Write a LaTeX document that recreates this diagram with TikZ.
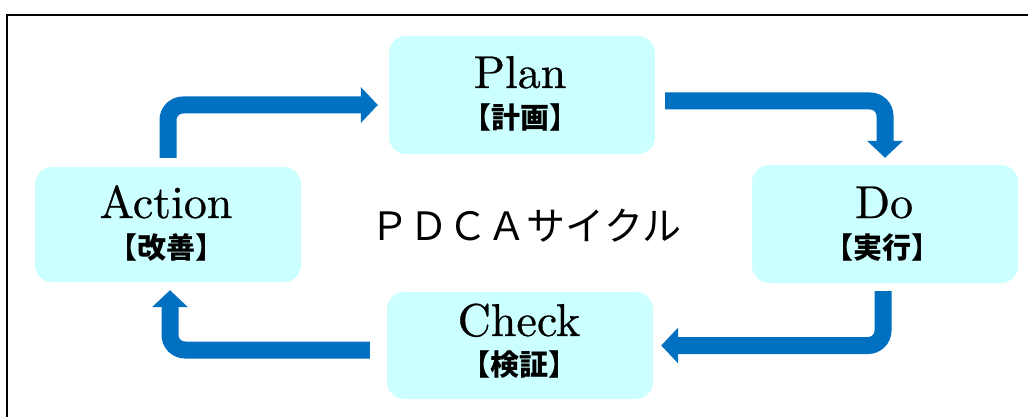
\documentclass[tikz,border=0pt]{standalone}
\usepackage{fontspec}
\usetikzlibrary{arrows.meta}
\newfontfamily\jpfont{Noto Sans CJK JP}
\newfontfamily\enfont{lmroman10-regular.otf}[FakeBold=0.6]
\definecolor{boxfill}{HTML}{CCFFFF}
\definecolor{flowblue}{HTML}{0070C0}
\tikzset{
  box/.style={rectangle, rounded corners=17pt, fill=boxfill, minimum width=266pt, inner sep=0pt},
  en/.style={font=\enfont\fontsize{46}{46}\selectfont, anchor=base, inner sep=0pt},
  jp/.style={font=\jpfont\bfseries\fontsize{29}{29}\selectfont, inner sep=0pt},
  title/.style={font=\jpfont\fontsize{39}{39}\selectfont, inner sep=0pt},
  flow/.style={draw=flowblue, line width=17pt, rounded corners=15pt, -{Triangle[length=17pt,width=35pt]}},
  frameline/.style={draw=black, line width=2pt}
}
\begin{document}
\begin{tikzpicture}[x=1pt, y=-1pt]
\useasboundingbox (0,0) rectangle (1028,417);
\draw[frameline] (7,418) -- (7,15) -- (1029,15);
% boxes
\node[box, minimum height=118pt] (plan)   at (522,95)    {};
\node[box, minimum height=115pt] (action) at (168,224.5) {};
\node[box, minimum height=118pt] (do)     at (885,224)   {};
\node[box, minimum height=107pt] (check)  at (520,345.5) {};
% labels
\node[en] (planen)   at (520,88)   {Plan};
\node[jp] (planjp)   at (520.5,117.5) {【計画】};
\node[en] (actionen) at (166,218)  {Action};
\node[jp] (actionjp) at (166,247.5) {【改善】};
\node[en] (doen)     at (884,218)  {Do};
\node[jp] (dojp)     at (882,247.5) {【実行】};
\node[en] (checken)  at (519,336)  {Check};
\node[jp] (checkjp)  at (519,365)  {【検証】};
\node[title] (cycle) at (526,226) {ＰＤＣＡサイクル};
% connectors
\draw[flow] ([yshift=9pt]action.north) |- ([xshift=-11pt,yshift=-10pt]plan.west);
\draw[flow] ([xshift=10pt,yshift=-6pt]plan.east) -| ([yshift=7pt]do.north);
\draw[flow] ([xshift=-2pt,yshift=-8pt]do.south) |- ([xshift=8pt]check.east);
\draw[flow] ([xshift=-17pt,yshift=-4.5pt]check.west) -| ([xshift=2pt,yshift=-8pt]action.south);
\end{tikzpicture}
\end{document}
